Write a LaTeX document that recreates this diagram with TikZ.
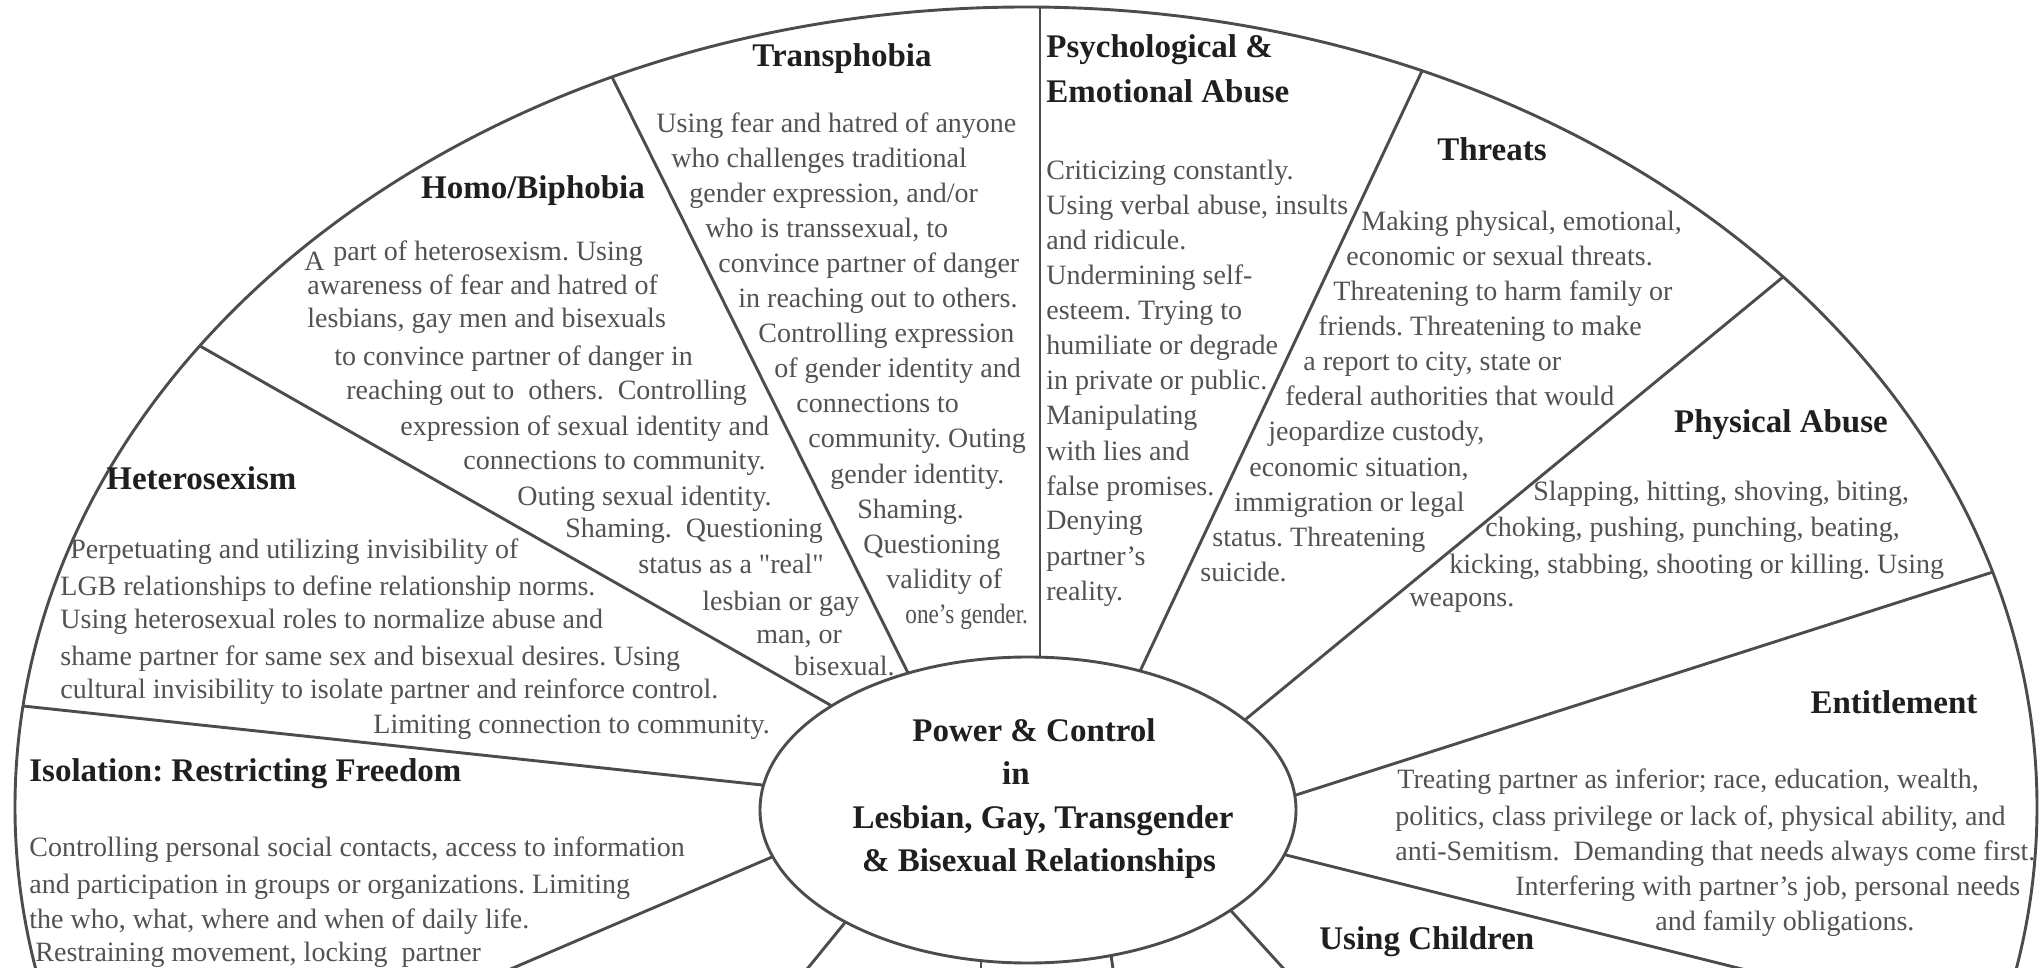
\documentclass[tikz,border=0pt]{standalone}
\usepackage{fontspec}
\setmainfont{Liberation Serif}
\newfontfamily\rawserif{Liberation Serif}
\usetikzlibrary{shapes.geometric,calc}
\frenchspacing
\begin{document}
\begin{tikzpicture}[x=0.5pt,y=-0.5pt,
  spoke/.style={draw=black!70, line width=1.45pt},
  bodytxt/.style={font=\fontsize{14}{17}\selectfont, text=black!68, anchor=base west, inner sep=0pt},
  headtxt/.style={font=\bfseries\fontsize{16.5}{20}\selectfont, text=black!88, anchor=base, inner sep=0pt},
  headl/.style={headtxt, anchor=base west}]
\useasboundingbox (0,0) rectangle (2042,968);
\fill[white] (0,0) rectangle (2042,968);
\begin{scope}
\clip (0,0) rectangle (2042,968);
\draw[spoke] (1026,807) ellipse [x radius=505.5pt, y radius=400pt];
% outer ends
\coordinate (o1) at (1040,7);
\coordinate (o2) at (612,77);
\coordinate (o3) at (200,346);
\coordinate (o4) at (23,706);
\coordinate (o5) at (415,1010);
\coordinate (o6) at (790,990);
\coordinate (o7) at (981,990);
\coordinate (o8) at (1116,990);
\coordinate (o9) at (1303,990);
\coordinate (o10) at (1826,990);
\coordinate (o11) at (1993,572);
\coordinate (o12) at (1783,277);
\coordinate (o13) at (1422,71);
% inner ends
\coordinate (i1) at (1040,657);
\coordinate (i2) at (908,673);
\coordinate (i3) at (832,706);
\coordinate (i4) at (762,785);
\coordinate (i5) at (772,857);
\coordinate (i6) at (843,925);
\coordinate (i7) at (981,961);
\coordinate (i8) at (1111,955);
\coordinate (i9) at (1233,913);
\coordinate (i10) at (1286,855);
\coordinate (i11) at (1296,795);
\coordinate (i12) at (1246,719);
\coordinate (i13) at (1142,667);
\foreach \k in {1,...,13}{
  \draw[spoke] (o\k) -- ($(i\k)!-10pt!(o\k)$);
}
\node[ellipse, draw=black!70, line width=1.45pt, fill=white, minimum width=268pt, minimum height=153pt, inner sep=0pt] (hub) at (1028,810) {};
\end{scope}

% Centre
\node[headtxt] (c1) at (1034,741) {Power \& Control};
\node[headtxt] (c2) at (1016,784) {in};
\node[headtxt] (c3) at (1043,828) {Lesbian, Gay, Transgender};
\node[headtxt] (c4) at (1039,871) {\& Bisexual Relationships};

% Transphobia
\node[headtxt] (tp0) at (842,67) {Transphobia};
\node[bodytxt] (tp1) at (656,133) {Using fear and hatred of anyone};
\node[bodytxt] (tp2) at (671,168) {who challenges traditional};
\node[bodytxt] (tp3) at (689,203) {gender expression, and/or};
\node[bodytxt] (tp4) at (705,238) {who is transsexual, to};
\node[bodytxt] (tp5) at (718,273) {convince partner of danger};
\node[bodytxt] (tp6) at (738,308) {in reaching out to others.};
\node[bodytxt] (tp7) at (758,343) {Controlling expression};
\node[bodytxt] (tp8) at (774,378) {of gender identity and};
\node[bodytxt] (tp9) at (796,413) {connections to};
\node[bodytxt] (tp10) at (808,448) {community. Outing};
\node[bodytxt] (tp11) at (830,483) {gender identity.};
\node[bodytxt] (tp12) at (857,518) {Shaming.};
\node[bodytxt] (tp13) at (863,553) {Questioning};
\node[bodytxt] (tp14) at (886,588) {validity of};
\node[bodytxt] (tp15) at (905,623) {\scalebox{0.83}[1]{one's gender.}};

% Psychological & Emotional Abuse
\node[headl] (ps0) at (1046,58) {Psychological \&};
\node[headl] (ps00) at (1046,103) {Emotional Abuse};
\node[bodytxt] (ps1) at (1046,180) {Criticizing constantly.};
\node[bodytxt] (ps2) at (1046,215) {Using verbal abuse, insults};
\node[bodytxt] (ps3) at (1046,250) {and ridicule.};
\node[bodytxt] (ps4) at (1046,285) {Undermining self-};
\node[bodytxt] (ps5) at (1046,320) {esteem. Trying to};
\node[bodytxt] (ps6) at (1046,355) {humiliate or degrade};
\node[bodytxt] (ps7) at (1046,390) {in private or public.};
\node[bodytxt] (ps8) at (1046,425) {Manipulating};
\node[bodytxt] (ps9) at (1046,460) {with lies and};
\node[bodytxt] (ps10) at (1046,495) {false promises.};
\node[bodytxt] (ps11) at (1046,530) {Denying};
\node[bodytxt] (ps12) at (1046,565) {partner's};
\node[bodytxt] (ps13) at (1046,600) {reality.};

% Homo/Biphobia
\node[headtxt] (hb0) at (533,199) {Homo/Biphobia};
\node[bodytxt] (hbA) at (304,271) {A};
\node[bodytxt] (hb1) at (333,261) {part of heterosexism. Using};
\node[bodytxt] (hb2) at (307,295) {awareness of fear and hatred of};
\node[bodytxt] (hb3) at (307,328) {lesbians, gay men and bisexuals};
\node[bodytxt] (hb4) at (334,366) {to convince partner of danger in};
\node[bodytxt] (hb5) at (346,400) {reaching out to\ \ others.\ \ Controlling};
\node[bodytxt] (hb6) at (400,436) {expression of sexual identity and};
\node[bodytxt] (hb7) at (463,470) {connections to community.};
\node[bodytxt] (hb8) at (517,505) {Outing sexual identity.};
\node[bodytxt] (hb9) at (565,538) {Shaming.\ \ Questioning};
\node[bodytxt] (hb10) at (638,573) {status as a {\rawserif "real"}};
\node[bodytxt] (hb11) at (702,610) {lesbian or gay};
\node[bodytxt] (hb12) at (756,643) {man, or};
\node[bodytxt] (hb13) at (794,675) {bisexual.};

% Heterosexism
\node[headl] (hs0) at (106,489) {Heterosexism};
\node[bodytxt] (hs1) at (70,558) {Perpetuating and utilizing invisibility of};
\node[bodytxt] (hs2) at (60,595) {LGB relationships to define relationship norms.};
\node[bodytxt] (hs3) at (60,628) {Using heterosexual roles to normalize abuse and};
\node[bodytxt] (hs4) at (60,665) {shame partner for same sex and bisexual desires. Using};
\node[bodytxt] (hs5) at (60,698) {cultural invisibility to isolate partner and reinforce control.};
\node[bodytxt] (hs6) at (373,733) {Limiting connection to community.};

% Isolation
\node[headl] (is0) at (29,781) {Isolation: Restricting Freedom};
\node[bodytxt] (is1) at (29,856) {Controlling personal social contacts, access to information};
\node[bodytxt] (is2) at (29,893) {and participation in groups or organizations. Limiting};
\node[bodytxt] (is3) at (29,928) {the who, what, where and when of daily life.};
\node[bodytxt] (is4) at (35,961) {Restraining movement, locking\ \ partner};

% Threats
\node[headtxt] (th0) at (1492,161) {Threats};
\node[bodytxt] (th1) at (1361,231) {Making physical, emotional,};
\node[bodytxt] (th2) at (1346,266) {economic or sexual threats.};
\node[bodytxt] (th3) at (1333,301) {Threatening to harm family or};
\node[bodytxt] (th4) at (1318,336) {friends. Threatening to make};
\node[bodytxt] (th5) at (1303,371) {a report to city, state or};
\node[bodytxt] (th6) at (1285,406) {federal authorities that would};
\node[bodytxt] (th7) at (1268,441) {jeopardize custody,};
\node[bodytxt] (th8) at (1249,476) {economic situation,};
\node[bodytxt] (th9) at (1234,511) {immigration or legal};
\node[bodytxt] (th10) at (1212,546) {status. Threatening};
\node[bodytxt] (th11) at (1200,581) {suicide.};

% Physical Abuse
\node[headtxt] (pa0) at (1781,433) {Physical Abuse};
\node[bodytxt] (pa1) at (1533,501) {Slapping, hitting, shoving, biting,};
\node[bodytxt] (pa2) at (1485,537) {choking, pushing, punching, beating,};
\node[bodytxt] (pa3) at (1449,573) {kicking, stabbing, shooting or killing. Using};
\node[bodytxt] (pa4) at (1409,606) {weapons.};

% Entitlement
\node[headtxt] (en0) at (1894,713) {Entitlement};
\node[bodytxt] (en1) at (1397,788) {Treating partner as inferior; race, education, wealth,};
\node[bodytxt] (en2) at (1395,825) {politics, class privilege or lack of, physical ability, and};
\node[bodytxt] (en3) at (1395,860) {anti-Semitism.\ \ Demanding that needs always come first.};
\node[bodytxt] (en4) at (1515,895) {Interfering with partner's job, personal needs};
\node[bodytxt] (en5) at (1655,930) {and family obligations.};

% Using Children
\node[headl] (uc0) at (1319,949) {Using Children};
\end{tikzpicture}
\end{document}
